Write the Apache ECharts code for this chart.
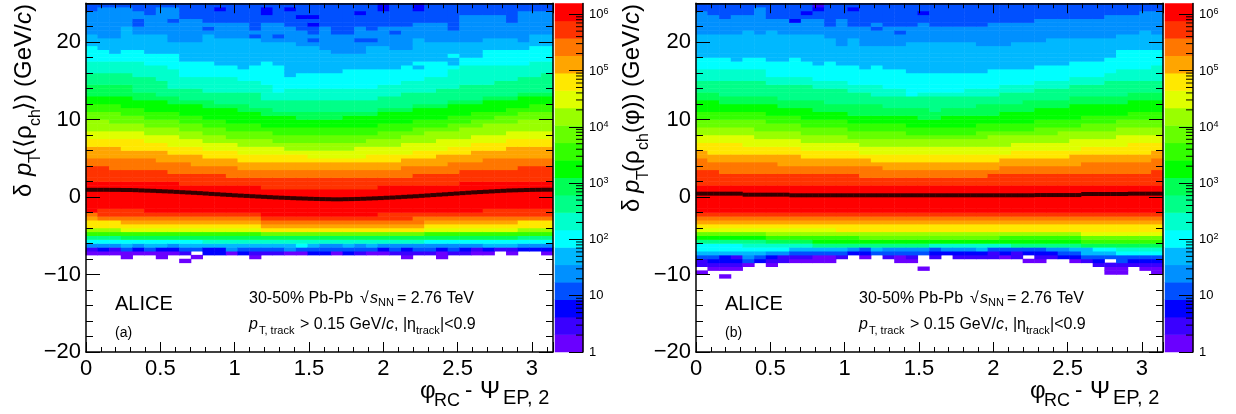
<!DOCTYPE html>
<html><head><meta charset="utf-8">
<style>html,body{margin:0;padding:0;background:#fff}#c{width:1236px;height:414px}</style>
<script src="https://cdn.jsdelivr.net/npm/echarts@6/dist/echarts.min.js"></script>
</head><body><div id="c"></div>
<script>
// Level colours, bottom (level 0) to top (level 19) of the colour bar
const palette=['#6a00ff','#3a00ff','#0000ff','#0050ff','#0090ff','#00b8ff','#00ffff','#00ffcc','#00ff88','#00ff55','#00ff00','#33ff00','#66ff00','#99ff00','#dfff00','#ffe800','#ffa500','#ff7700','#ff3300','#ff0000'];
const xTicksMax=3.14159, binsX=40, binsY=90, yMin=-20, yMax=25, barMax=1550000;
const barMinor=[2,3,4,5,6,7,8,9,20,30,40,50,60,70,80,90,200,300,400,500,600,700,800,900,2000,3000,4000,5000,6000,7000,8000,9000,20000,30000,40000,50000,60000,70000,80000,90000,200000,300000,400000,500000,600000,700000,800000,900000];

// Panel (a): upper edge (GeV/c) of each colour level per column; [n,v] = n columns at v
const topA={
19:[[8,2],[7,1.5],[10,1],[7,1.5],[8,2]],
18:[[2,4],[5,3.5],[5,3],[16,2.5],[4,3],[5,3.5],[3,4]],
17:[[6,5],[3,4.5],[4,4],[14,3.5],[4,4],[3,4.5],[6,5]],
16:[[3,6.5],[4,6],[3,5.5],[3,5],[14,4.5],[3,5],[3,5.5],[3,6],[4,6.5]],
15:[[5,7.5],[2,7],[3,6.5],[3,6],[6,5.5],[5,5],[4,5.5],[3,6],[2,6.5],[3,7],[4,7.5]],
14:[[5,8.5],[3,8],[2,7.5],[3,7],[4,6.5],[6,6],[4,6.5],[3,7],[3,7.5],[3,8],[4,8.5]],
13:[[2,10],[3,9.5],[3,9],[2,8.5],[2,8],[4,7.5],[8,7],[3,7.5],[2,8],[3,8.5],[2,9],[3,9.5],[3,10]],
12:[[3,11],[2,10.5],[3,10],[2,9.5],[2,9],[4,8.5],[9,8],[3,8.5],[3,9],[2,9.5],[2,10],[2,10.5],[3,11]],
11:[[3,12],[2,11.5],[3,11],[2,10.5],[2,10],[3,9.5],[10,9],[3,9.5],[3,10],[2,10.5],[3,11],[2,11.5],[2,12]],
10:[[4,13],[3,12.5],[3,12],[3,11.5],[2,11],[3,10.5],[4,10],[3,10.5],[3,11],[3,11.5],[3,12],[3,12.5],[3,13]],
9:[[4,14.5],[2,13.5],[2,13],[3,12.5],[3,12],[2,11.5],[9,11],[3,11.5],[3,12],[3,12.5],[3,13],[3,13.5],[3,14.5]],
8:[[4,16],[2,15.5],[1,15],[3,14],[5,13.5],[10,12.5],[2,13],[3,13.5],[2,14],[3,14.5],[2,15],[2,15.5],[1,16]],
7:[[5,17.5],[2,17],[1,16.5],[5,15.5],[2,15],[1,14.5],[1,13.5],[8,14],[2,14.5],[2,15],[2,15.5],[1,16.5],[6,17],[2,17.5]],
6:[[1,19.5],[1,19],[1,18.5],[2,19],[3,18.5],[3,17.5],[2,17],[1,16.5],[1,17],[1,17.5],[1,17],[1,15.5],[4,16],[5,16.5],[1,17],[3,17.5],[1,18.5],[2,18],[4,19],[2,19.5]],
5:[[1,21],[2,20.5],[1,22],[3,21],[3,20],[1,21],[4,20.5],[3,20],[2,19.5],[1,19],[3,18.5],[2,19.5],[2,19],[1,20.5],[5,20],[3,20.5],[1,20],[2,21]],
4:[[1,24],[3,24.5],[1,24],[1,23.5],[2,24.5],[2,23],[4,22.5],[1,21.5],[2,22.5],[1,22],[1,21.5],[1,21],[1,22],[2,21],[1,22],[1,21.5],[3,22],[3,22.5],[1,21.5],[4,23.5],[1,22.5],[3,24]],
3:[[40,25]]
};
// Panel (a): lower-tail rows, keyed by row bottom edge; -1 = empty
const lowA={
'-2':[[1,19],[4,18],[29,19],[6,18]],
'-2.5':[[1,17],[14,18],[10,19],[15,18]],
'-3':[[1,16],[14,17],[13,18],[12,17]],
'-3.5':[[3,15],[12,16],[14,17],[8,16],[3,15]],
'-4':[[15,15],[14,16],[11,15]],
'-4.5':[[3,13],[12,14],[14,15],[8,14],[3,13]],
'-5':[[15,11],[14,12],[11,11]],
'-5.5':[[3,8],[34,9],[3,8]],
'-6':[[10,6],[19,7],[11,6]],
'-6.5':[4,4,4,5,4,5,5,4,5,5,5,5,5,5,5,5,5,5,6,5,4,4,5,4,5,4,4,4,4,4,4,4,4,4,5,5,5,4,4,4],
'-7':[1,2,1,3,2,3,2,2,3,3,2,2,4,3,3,3,3,4,3,3,3,3,3,3,3,2,3,2,3,3,2,3,2,1,2,1,1,2,2,2],
'-7.5':[0,0,0,0,0,0,0,0,1,-1,2,2,0,2,1,1,1,0,0,2,2,0,2,1,0,0,1,1,1,1,0,1,1,0,0,-1,0,-1,-1,0],
'-8':[-1,-1,-1,0,-1,-1,0,-1,-1,0,-1,-1,-1,-1,0,-1,-1,-1,-1,-1,-1,-1,-1,-1,-1,-1,-1,0,-1,-1,0,-1,-1,-1,-1,-1,-1,-1,-1,-1],
'-8.5':[-1,-1,-1,-1,-1,-1,-1,-1,0,-1,-1,-1,-1,-1,-1,-1,-1,-1,-1,-1,-1,-1,-1,-1,-1,-1,-1,-1,-1,-1,-1,-1,-1,-1,-1,-1,-1,-1,-1,-1]
};
// Panel (a): isolated cells [column, row bottom, level]
const specksA=[[4,22.5,3],[4,22,3],[7,22.5,3],[10,21.5,3],[15,24,2],[15,23.5,2],[11,24,2],[17,24,2],[18,23,2],[19,23,2],[19,22,2],[14,20.5,3],[16,20.5,3],[19,20,3],[23,23.5,2],[36,22.5,3],[25,24.5,2],[25,24,2],[28,24.5,2],[28,24,2],[26,21,3],[23,20,3],[24,20,3],[31,17.5,5],[31,17,5],[28,16.5,5]];
// Panel (a): mean per fine bin
const meanA=[0.93,0.93,0.93,0.93,0.92,0.92,0.90,0.90,0.88,0.85,0.82,0.80,0.76,0.73,0.70,0.66,0.62,0.58,0.54,0.50,0.45,0.40,0.36,0.31,0.27,0.22,0.18,0.14,0.10,0.06,0.02,-0.02,-0.06,-0.09,-0.12,-0.15,-0.18,-0.20,-0.23,-0.25,-0.27,-0.28,-0.30,-0.30,-0.28,-0.27,-0.25,-0.23,-0.20,-0.17,-0.14,-0.10,-0.07,-0.03,0.02,0.06,0.10,0.15,0.20,0.25,0.30,0.35,0.40,0.45,0.50,0.55,0.60,0.64,0.68,0.72,0.76,0.80,0.84,0.86,0.88,0.90,0.92,0.93,0.94,0.94];

// Panel (b)
const topB={
19:[[40,1.5]],
18:[[2,3.5],[12,3],[11,2.5],[14,3],[1,3.5]],
17:[[1,5],[6,4.5],[9,4],[10,3.5],[7,4],[6,4.5],[1,5]],
16:[[1,6],[8,5.5],[6,5],[11,4.5],[6,5],[7,5.5],[1,6]],
15:[[4,7],[5,6.5],[5,6],[13,5.5],[6,6],[4,6.5],[3,7]],
14:[[5,8],[4,7.5],[5,7],[13,6.5],[5,7],[4,7.5],[4,8]],
13:[[5,9],[4,8.5],[4,8],[12,7.5],[6,8],[5,8.5],[4,9]],
12:[[6,10],[3,9.5],[4,9],[5,8.5],[6,8],[5,8.5],[4,9],[3,9.5],[4,10]],
11:[[6,11],[3,10.5],[4,10],[5,9.5],[6,9],[5,9.5],[4,10],[4,10.5],[3,11]],
10:[[2,12.5],[5,12],[3,11.5],[3,11],[6,10.5],[2,10],[5,10.5],[3,11],[3,11.5],[5,12],[3,12.5]],
9:[[2,13.5],[5,13],[4,12.5],[5,12],[4,11.5],[1,11],[3,11.5],[4,12],[4,12.5],[5,13],[3,13.5]],
8:[[6,15],[4,14.5],[3,14],[2,13.5],[11,13],[3,13.5],[3,14],[3,14.5],[5,15]],
7:[[6,16.5],[4,15.5],[3,15],[3,14.5],[2,14],[1,13],[4,13.5],[3,14],[3,14.5],[3,15],[3,15.5],[1,16],[3,16.5],[1,17]],
6:[[3,18],[1,17.5],[2,18],[2,17.5],[1,18],[1,17.5],[1,17],[1,17.5],[2,17],[1,16.5],[1,17],[2,16.5],[7,16],[4,16.5],[3,17],[3,17.5],[1,18],[4,19]],
5:[[4,21],[1,21.5],[1,21],[1,21.5],[4,21],[1,20.5],[1,19.5],[1,20.5],[4,19.5],[6,20],[3,19.5],[3,20],[6,20.5],[2,21],[1,21.5],[1,21]],
4:[[1,24],[1,23.5],[1,23],[2,23.5],[1,24.5],[5,23],[1,22.5],[1,23],[2,22],[1,22.5],[3,22],[1,22.5],[5,22],[4,22.5],[6,23],[3,23.5],[2,24]],
3:[[40,25]]
};
const lowB={
'-2.5':[[40,18]],
'-3':[[40,17]],
'-3.5':[[40,16]],
'-4':[[40,15]],
'-4.5':[[12,14],[28,15]],
'-5':[[6,12],[27,13],[7,14]],
'-5.5':[[6,10],[8,11],[12,12],[7,11],[7,12]],
'-6':[[6,8],[4,9],[23,10],[7,11]],
'-6.5':[[4,6],[6,7],[10,8],[7,7],[6,8],[7,9]],
'-7':[[8,6],[5,5],[1,4],[1,3],[1,5],[4,4],[1,3],[3,4],[1,5],[5,3],[2,4],[2,5],[2,6],[4,7]],
'-7.5':[[6,5],[2,4],[5,3],[2,2],[5,3],[5,2],[1,1],[1,2],[1,1],[3,2],[2,3],[3,5],[4,6]],
'-8':[3,3,2,1,4,3,2,1,1,1,0,0,1,-1,0,-1,1,0,1,-1,1,-1,1,1,1,1,0,1,-1,1,1,2,2,3,3,3,3,3,3,3],
'-8.5':[1,2,2,2,3,2,1,1,0,0,0,0,-1,-1,-1,-1,-1,0,0,-1,-1,-1,-1,-1,-1,-1,-1,-1,0,0,-1,-1,0,1,2,-1,3,2,2,2],
'-9':[1,1,1,1,0,-1,0,-1,-1,-1,-1,-1,-1,-1,-1,-1,-1,-1,-1,-1,-1,-1,-1,-1,-1,-1,-1,-1,-1,-1,-1,-1,-1,-1,1,1,1,1,1,1],
'-9.5':[-1,0,0,0,-1,-1,-1,-1,-1,-1,-1,-1,-1,-1,-1,-1,-1,-1,-1,0,-1,-1,-1,-1,-1,-1,-1,-1,-1,-1,-1,-1,-1,-1,-1,0,0,-1,0,0],
'-10':[0,-1,-1,-1,-1,-1,-1,-1,-1,-1,-1,-1,-1,-1,-1,-1,-1,-1,-1,-1,-1,-1,-1,-1,-1,-1,-1,-1,-1,-1,-1,-1,-1,-1,-1,0,0,-1,-1,0],
'-10.5':[-1,-1,0,-1,-1,-1,-1,-1,-1,-1,-1,-1,-1,-1,-1,-1,-1,-1,-1,-1,-1,-1,-1,-1,-1,-1,-1,-1,-1,-1,-1,-1,-1,-1,-1,-1,-1,-1,-1,-1]
};
const specksB=[[8,22.5,2],[9,23.5,2],[10,24.5,1],[10,24,2],[13,24,2],[11,22,3],[15,21.5,3],[17,21,3],[19,23.5,2]];
const meanB=[0.43,0.43,0.43,0.43,0.43,0.43,0.43,0.43,0.30,0.30,0.30,0.30,0.30,0.30,0.30,0.30,0.22,0.22,0.22,0.22,0.22,0.22,0.22,0.22,0.22,0.22,0.22,0.22,0.22,0.22,0.22,0.22,0.22,0.22,0.22,0.22,0.22,0.22,0.22,0.22,0.22,0.22,0.22,0.22,0.22,0.22,0.22,0.22,0.22,0.22,0.22,0.22,0.22,0.22,0.22,0.22,0.22,0.22,0.25,0.25,0.25,0.25,0.25,0.25,0.25,0.25,0.39,0.39,0.39,0.39,0.39,0.39,0.39,0.39,0.43,0.43,0.43,0.43,0.43,0.43];

function expand(list){const o=[];for(const e of list){if(Array.isArray(e)){for(let i=0;i<e[0];i++)o.push(e[1]);}else o.push(e);}return o;}
function cells(tops,lows,specks){
  const T={},L={};
  for(const k in tops)T[k]=expand(tops[k]);
  for(const k in lows)L[k]=expand(lows[k]);
  const floor=Math.min(...Object.keys(lows).map(Number));
  const S={};specks.forEach(s=>S[s[0]+'_'+s[1]]=s[2]);
  const out=[];
  for(let c=0;c<binsX;c++)for(let r=0;r<binsY;r++){
    const v=yMin+r*0.5;let lev=-1;
    if(S[c+'_'+v]!==undefined)lev=S[c+'_'+v];
    else if(L[String(v)])lev=L[String(v)][c];
    else if(v>=floor){for(let k=19;k>=3;k--){if(T[k][c]>v){lev=k;break;}}}
    if(lev>=0)out.push([c,r,lev]);
  }
  return out;
}
const xCat=Array.from({length:binsX},(_,i)=>i), yCat=Array.from({length:binsY},(_,i)=>i);
const barLevels=palette.map((_,i)=>i);
const F='"Liberation Sans"';
const grids=[],xAxes=[],yAxes=[],series=[],heatIdx=[];
function panel(left,heat,mean){
  const g0=grids.length;
  const box={left,width:467,top:3.25,height:348.75};
  const bar={left:left+469,width:28,top:3.5,height:348.5};
  grids.push(box,box,bar,bar);
  const n=xAxes.length,m=yAxes.length;
  const frame={show:true,onZero:false,lineStyle:{color:'#000',width:1.5}};
  const xCommon={type:'value',gridIndex:g0+1,min:0,max:xTicksMax,interval:0.5,z:10,axisLine:frame,splitLine:{show:false},
    axisTick:{show:true,inside:true,length:10,lineStyle:{color:'#000',width:1}},
    minorTick:{show:true,splitNumber:5,length:5,lineStyle:{color:'#000',width:1}}};
  const yCommon={type:'value',gridIndex:g0+1,min:yMin,max:yMax,interval:10,z:10,axisLine:frame,splitLine:{show:false},
    axisTick:{show:true,inside:true,length:14,lineStyle:{color:'#000',width:1}},
    minorTick:{show:true,splitNumber:5,length:7,lineStyle:{color:'#000',width:1}}};
  xAxes.push({type:'category',gridIndex:g0,data:xCat,show:false},
    Object.assign({},xCommon,{position:'bottom',axisLabel:{show:true,showMaxLabel:false,margin:6,color:'#000',fontFamily:F,fontSize:22,formatter:v=>String(v)}}),
    Object.assign({},xCommon,{position:'top',axisLabel:{show:false}}),
    {type:'category',gridIndex:g0+2,data:[0],show:false},
    {type:'value',gridIndex:g0+3,min:0,max:1,show:false});
  yAxes.push({type:'category',gridIndex:g0,data:yCat,show:false},
    Object.assign({},yCommon,{position:'left',axisLabel:{show:true,showMaxLabel:false,margin:5,color:'#000',fontFamily:F,fontSize:22,formatter:v=>String(v).replace('-','\u2212')}}),
    Object.assign({},yCommon,{position:'right',axisLabel:{show:false}}),
    {type:'category',gridIndex:g0+2,data:barLevels,show:false},
    {type:'log',logBase:10,gridIndex:g0+3,min:1,max:barMax,position:'right',z:10,
      axisLine:{show:true,onZero:false,lineStyle:{color:'#000',width:1.5}},splitLine:{show:false},minorTick:{show:false},
      axisTick:{show:true,inside:true,length:14,lineStyle:{color:'#000',width:1}},
      axisLabel:{show:true,showMaxLabel:false,margin:6,align:'left',color:'#000',fontFamily:F,fontSize:13,
        formatter:v=>{const e=Math.round(Math.log10(v));return e===0?'{a|1}':e===1?'{a|10}':'{b|10}{s|'+e+'}';},
        rich:{a:{fontFamily:F,fontSize:13,lineHeight:14,color:'#000'},
          b:{fontFamily:F,fontSize:13,lineHeight:14,verticalAlign:'bottom',color:'#000'},
          s:{fontFamily:F,fontSize:9,lineHeight:11,padding:[0,0,6,0],verticalAlign:'top',color:'#000'}}}});
  heatIdx.push(series.length);
  series.push({type:'heatmap',xAxisIndex:n,yAxisIndex:m,data:heat,z:2,silent:true,progressive:0,emphasis:{disabled:true}});
  series.push({type:'scatter',xAxisIndex:n+1,yAxisIndex:m+1,z:5,silent:true,symbol:'rect',symbolSize:[6,4],itemStyle:{color:'#000'},
    data:mean.map((v,i)=>[(i+0.5)*xTicksMax/mean.length,v])});
  heatIdx.push(series.length);
  series.push({type:'heatmap',xAxisIndex:n+3,yAxisIndex:m+3,data:barLevels.map(l=>[0,l,l]),z:2,silent:true,progressive:0,emphasis:{disabled:true}});
  series.push({type:'custom',xAxisIndex:n+4,yAxisIndex:m+4,z:6,silent:true,data:barMinor.map(v=>[1,v]),
    renderItem:(p,api)=>{const a=api.coord([1,api.value(1)]);
      return {type:'line',shape:{x1:a[0],y1:a[1],x2:a[0]-7,y2:a[1]},style:{stroke:'#000',lineWidth:1}};}});
}
panel(86,cells(topA,lowA,specksA),meanA);
panel(696,cells(topB,lowB,specksB),meanB);

function tx(x,y,text,o){o=o||{};return {type:'text',x,y,rotation:o.rot?Math.PI/2:0,z:20,silent:true,
  style:{text,fill:'#000',fontFamily:F,fontSize:o.s||16,fontStyle:o.i?'italic':'normal',align:'left',verticalAlign:'middle'}};}
const gfx=[];
function notes(dx,tag){
  gfx.push(tx(115+dx,304,'ALICE',{s:20}),tx(115+dx,333,tag,{s:14}));
  gfx.push(tx(249+dx,299,'30-50% Pb-Pb'),tx(360+dx,299,'\u221a'),tx(370+dx,299,'s',{i:1}),tx(378+dx,303,'NN',{s:11}),tx(397+dx,299,'= 2.76 TeV'));
  gfx.push(tx(249+dx,325,'p',{i:1}),tx(259+dx,331,'T, track',{s:11}),tx(300+dx,325,'> 0.15 GeV/'),tx(386+dx,325,'c',{i:1}),tx(394+dx,325,', |\u03b7'),tx(416+dx,331,'track',{s:11}),tx(440+dx,325,'|<0.9'));
  gfx.push(tx(420+dx,391,'\u03c6',{s:24}),tx(434+dx,401,'RC',{s:18}),tx(465+dx,391,'-',{s:22}),tx(480+dx,391,'\u03a8',{s:24}),tx(503+dx,398,'EP, 2',{s:20}));
}
notes(0,'(a)');notes(610,'(b)');
// rotated y titles
[[24,197,'\u03b4',24,0],[24,176,'p',24,1],[36,163,'T',16,0],[24,156,'(\u27e8\u03c1',24,0],[36,126,'ch',16,0],[24,111,'\u27e9)',24,0],[24,87,'(GeV/',24,0],[24,24,'c',24,1],[24,12,')',24,0]].forEach(a=>gfx.push(tx(a[0],a[1],a[2],{s:a[3],i:a[4],rot:1})));
[[632,212,'\u03b4',24,0],[632,193,'p',24,1],[644,180,'T',16,0],[632,172,'(\u03c1',24,0],[644,150,'ch',16,0],[632,133,'(\u03c6))',24,0],[632,87,'(GeV/',24,0],[632,24,'c',24,1],[632,12,')',24,0]].forEach(a=>gfx.push(tx(a[0],a[1],a[2],{s:a[3],i:a[4],rot:1})));

const chart=echarts.init(document.getElementById('c'),null,{renderer:'canvas'});
chart.setOption({animation:false,backgroundColor:'#fff',grid:grids,xAxis:xAxes,yAxis:yAxes,series,graphic:gfx,
  visualMap:[{type:'piecewise',show:false,dimension:2,seriesIndex:heatIdx,pieces:palette.map((color,value)=>({value,color}))}]});
</script></body></html>
